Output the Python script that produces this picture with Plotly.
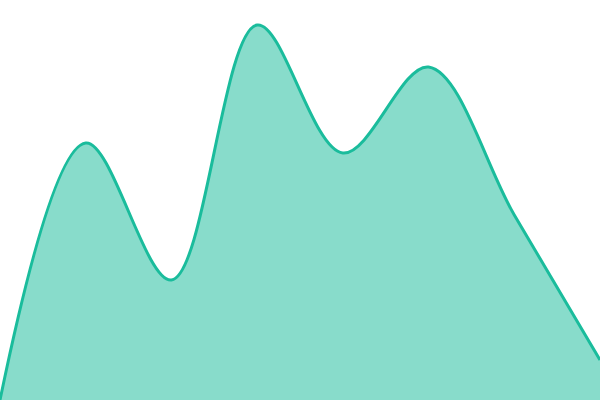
import plotly.graph_objects as go

# Smooth area series, evenly spaced points
x_vals = [0, 1, 2, 3, 4, 5, 6, 7]
y_vals = [0, 257, 120, 375, 247, 333, 185, 40]

fig = go.Figure()

fig.add_trace(go.Scatter(
    x=x_vals, y=y_vals,
    mode='lines',
    line=dict(color='#1abc9c', width=3, shape='spline', smoothing=1),
    fill='tozeroy',
    fillcolor='rgba(26,188,156,0.52)',
    hoverinfo='skip'
))

fig.update_layout(
    width=600, height=400,
    margin=dict(l=0, r=0, t=0, b=0),
    paper_bgcolor='white',
    plot_bgcolor='white',
    showlegend=False,
    xaxis=dict(visible=False, range=[0, 7], fixedrange=True),
    yaxis=dict(visible=False, range=[0, 400], fixedrange=True)
)

# drop the default page margin so the chart sits flush in the window
fig.write_html("out.html", config={'displayModeBar': False},
               post_script="document.body.style.margin='0';document.body.style.overflow='hidden';")
